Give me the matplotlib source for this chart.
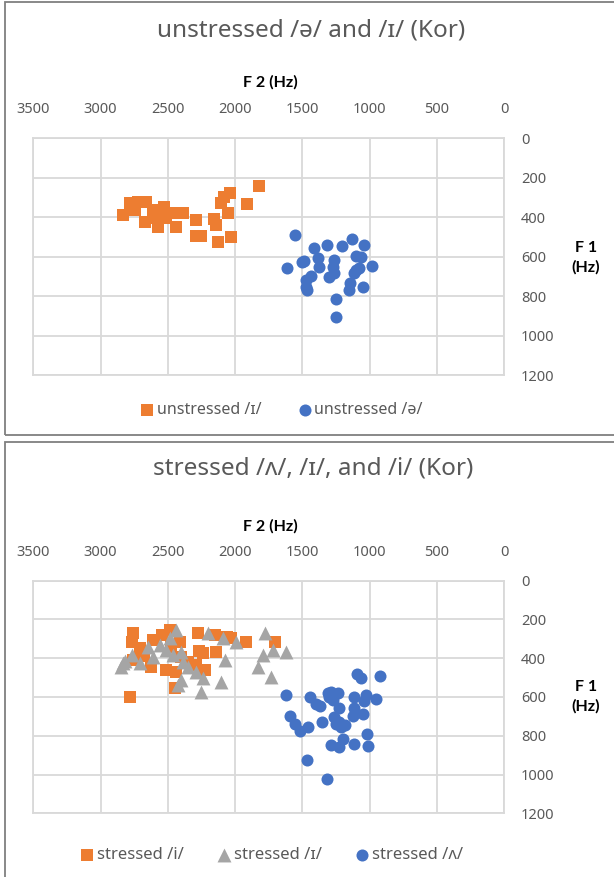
import matplotlib
matplotlib.use("Agg")
import matplotlib.pyplot as plt
from matplotlib.patches import Rectangle

plt.rcParams['font.family'] = ['Noto Sans', 'DejaVu Sans']

# ---- top chart: unstressed vowels (F2, F1 in Hz) ----
un_i_f2 = [1826, 1910, 2036, 2085, 2102, 2053, 2028, 2128, 2145, 2160, 2288, 2250,
           2288, 2388, 2437, 2460, 2510, 2573, 2610, 2672, 2659, 2720, 2783, 2832,
           2745, 2560, 2530, 2610]
un_i_f1 = [241, 333, 278, 296, 329, 380, 498, 523, 439, 410, 495, 495,
           414, 377, 448, 380, 405, 448, 363, 422, 321, 321, 329, 388,
           363, 388, 350, 405]

un_schwa_f2 = [1554, 1415, 1319, 1205, 1134, 1045, 1611, 1502, 1490, 1386, 1380, 1262,
               1270, 1262, 1299, 1435, 1472, 1465, 1472, 1250, 1250, 1146, 1150, 1052,
               983, 1101, 1064, 1101, 1077, 1114]
un_schwa_f1 = [488, 554, 540, 547, 508, 540, 657, 626, 620, 608, 650, 616,
               650, 684, 704, 697, 717, 768, 751, 815, 906, 731, 770, 751,
               647, 596, 600, 667, 659, 680]

# ---- bottom chart: stressed vowels ----
st_i_f2 = [2778, 2758, 2770, 2758, 2610, 2622, 2547, 2486, 2473, 2510, 2449, 2412,
           2399, 2436, 2276, 2239, 2226, 2152, 2140, 2028, 1917, 1707, 2708, 2290,
           2270, 2680, 2350, 2060]
st_i_f1 = [599, 272, 315, 410, 307, 444, 281, 255, 341, 461, 556, 315,
           393, 470, 272, 375, 461, 281, 367, 298, 315, 315, 349, 435,
           365, 390, 420, 290]

st_ih_f2 = [2832, 2820, 2770, 2708, 2647, 2610, 2560, 2486, 2436, 2461, 2399, 2387,
            2350, 2288, 2239, 2399, 2424, 2251, 2202, 2090, 1991, 2078, 2102, 1781,
            1794, 1720, 1620, 1831, 1731, 2845, 2510]
st_ih_f1 = [427, 417, 384, 427, 341, 393, 332, 298, 255, 384, 367, 419,
            444, 470, 504, 513, 539, 573, 272, 298, 315, 410, 522, 272,
            384, 358, 367, 444, 496, 444, 358]

st_wedge_f2 = [1093, 1064, 926, 1620, 1447, 1398, 1370, 1312, 1290, 1237, 1275, 1225,
               1262, 1225, 1213, 1181, 1114, 1027, 953, 1040, 1114, 1126, 1047, 1591,
               1552, 1517, 1455, 1356, 1200, 1286, 1225, 1114, 1022, 1015, 1465, 1316,
               1300, 1250]
st_wedge_f1 = [484, 504, 491, 590, 599, 637, 645, 581, 575, 578, 616, 659,
               702, 728, 757, 745, 599, 590, 611, 620, 659, 698, 688, 698,
               740, 774, 754, 729, 819, 848, 860, 843, 793, 853, 925, 1022,
               600, 740]

xticks = [3500, 3000, 2500, 2000, 1500, 1000, 500, 0]
yticks = [0, 200, 400, 600, 800, 1000, 1200]

ORANGE = '#ED7D31'
BLUE = '#4472C4'
GRAY = '#A5A5A5'
TXT = '#595959'

W, H = 614, 877
fig = plt.figure(figsize=(W / 100, H / 100), dpi=100)


def fx(px):
    return px / W


def fy(py):
    return 1 - py / H


def setup(ax):
    ax.set_xlim(3500, 0)
    ax.set_ylim(1200, 0)
    ax.set_xticks(xticks)
    ax.set_yticks(yticks)
    ax.xaxis.tick_top()
    ax.yaxis.tick_right()
    ax.tick_params(axis='x', length=0, pad=15, labelsize=10.5, labelcolor=TXT)
    ax.tick_params(axis='y', length=0, pad=12, labelsize=10.5, labelcolor=TXT)
    for lab in ax.get_yticklabels():
        lab.set_horizontalalignment('left')
    ax.grid(True, color='#d9d9d9', linewidth=1.3)
    ax.set_axisbelow(True)
    for s in ax.spines.values():
        s.set_color('#d9d9d9')
        s.set_linewidth(1.3)


# panel frames
fig.patches.append(Rectangle((fx(5), fy(435)), fx(620), 433 / H, transform=fig.transFigure,
                             fill=False, edgecolor='#7f7f7f', linewidth=1.3))
fig.patches.append(Rectangle((fx(5), fy(900)), fx(620), 458 / H, transform=fig.transFigure,
                             fill=False, edgecolor='#7f7f7f', linewidth=1.3))

bold = dict(fontsize=11.5, fontweight='bold', color='black', family=['Lato', 'DejaVu Sans'])

# ---- top ----
ax1 = fig.add_axes([fx(33.3), fy(375.3), fx(470.9), 237 / H])
setup(ax1)
h1 = ax1.scatter(un_i_f2, un_i_f1, marker='s', s=70, color=ORANGE, linewidths=0,
                 label='unstressed /ɪ/')
h2 = ax1.scatter(un_schwa_f2, un_schwa_f1, marker='o', s=75, color=BLUE, linewidths=0,
                 label='unstressed /ə/')
fig.text(fx(311), fy(30), 'unstressed /ə/ and /ɪ/ (Kor)', ha='center', va='center',
         fontsize=17.5, color=TXT)
fig.text(fx(270), fy(82), 'F 2 (Hz)', ha='center', va='center', **bold)
fig.text(fx(586), fy(258), 'F 1\n(Hz)', ha='center', va='center', linespacing=1.4, **bold)
fig.legend(handles=[h1, h2], loc='center', bbox_to_anchor=(fx(281), fy(410)), ncol=2,
           frameon=False, fontsize=11.5, handletextpad=0.1, columnspacing=2.2,
           handlelength=1.0, labelcolor=TXT)

# ---- bottom ----
ax2 = fig.add_axes([fx(33.3), fy(813.3), fx(470.9), 232.8 / H])
setup(ax2)
h3 = ax2.scatter(st_i_f2, st_i_f1, marker='s', s=70, color=ORANGE, linewidths=0,
                 label='stressed /i/')
h4 = ax2.scatter(st_ih_f2, st_ih_f1, marker='^', s=100, color=GRAY, linewidths=0,
                 label='stressed /ɪ/')
h5 = ax2.scatter(st_wedge_f2, st_wedge_f1, marker='o', s=75, color=BLUE, linewidths=0,
                 label='stressed /ʌ/')
fig.text(fx(313), fy(468), 'stressed /ʌ/, /ɪ/, and /i/ (Kor)', ha='center', va='center',
         fontsize=17.5, color=TXT)
fig.text(fx(270), fy(526), 'F 2 (Hz)', ha='center', va='center', **bold)
fig.text(fx(586), fy(697), 'F 1\n(Hz)', ha='center', va='center', linespacing=1.4, **bold)
fig.legend(handles=[h3, h4, h5], loc='center', bbox_to_anchor=(fx(271), fy(855)), ncol=3,
           frameon=False, fontsize=12, handletextpad=0.1, columnspacing=1.9,
           handlelength=1.0, labelcolor=TXT)

fig.savefig('out.png', dpi=100)
